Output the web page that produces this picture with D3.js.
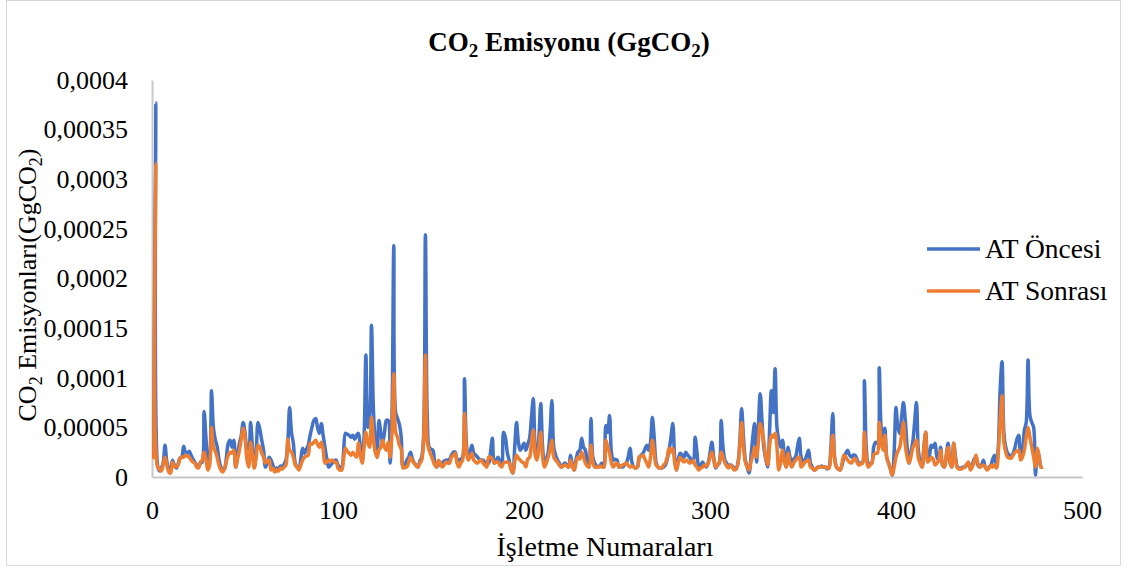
<!DOCTYPE html>
<html><head><meta charset="utf-8">
<script src="https://cdn.jsdelivr.net/npm/d3@7/dist/d3.min.js"></script>
<style>
html,body{margin:0;padding:0;background:#fff;}
text{font-family:"Liberation Serif","Times New Roman",serif;fill:#000;}
</style></head>
<body><svg id="chart" width="1129" height="570"></svg>
<script>
// Values in units of 1e-6 GgCO2, one per işletme (1..479)
const atOncesi = [
20,377,12,6,9,14,32,15,9,8,
17,12,9,13,19,20,31,25,24,26,
22,18,15,12,10,14,15,66,40,17,
22,87,50,38,31,18,10,8,8,20,
34,37,30,37,10,22,34,42,55,45,
30,28,55,30,10,25,55,48,37,27,
10,15,20,17,12,7,9,8,11,10,
13,17,34,70,45,34,14,10,8,18,
29,24,28,32,42,50,57,59,50,44,
54,42,30,18,10,12,14,16,17,12,
10,10,25,44,43,42,40,42,38,42,
44,30,17,40,123,50,60,153,70,35,
20,57,45,35,45,57,57,14,60,233,
65,59,53,40,10,12,17,20,25,18,
14,12,10,16,20,40,244,60,30,28,
27,15,10,12,13,14,16,17,17,18,
22,25,25,18,17,18,20,99,35,20,
25,32,24,22,20,18,17,17,15,14,
14,25,39,14,16,20,15,12,45,40,
25,17,8,4,30,55,35,27,30,34,
27,33,39,60,79,30,20,40,74,30,
14,18,25,45,77,30,22,17,14,10,
12,14,12,10,22,12,7,18,25,27,
39,30,27,15,10,59,20,14,11,10,
12,14,10,52,45,62,25,17,18,17,
10,11,10,12,14,20,29,15,10,9,
10,20,22,24,28,32,27,35,60,40,
15,10,9,9,10,12,18,27,40,54,
20,7,18,24,22,20,25,22,20,17,
15,40,25,10,12,15,12,10,14,24,
35,20,9,12,14,57,30,17,14,10,
12,11,9,8,14,35,69,40,17,10,
4,20,40,54,15,50,84,55,29,18,
10,45,87,65,109,50,37,30,37,20,
10,30,20,15,18,20,30,39,20,16,
17,22,27,14,10,7,8,10,10,11,
10,10,8,10,30,64,20,10,8,7,
12,20,24,27,22,20,22,22,18,14,
14,14,97,30,14,13,14,30,35,34,
110,50,37,49,20,14,8,2,25,70,
50,44,60,75,57,30,14,25,35,55,
75,27,15,10,30,45,17,22,32,30,
34,20,17,30,12,10,20,34,15,10,
34,20,10,9,9,10,10,12,14,9,
12,18,20,12,10,12,17,10,8,10,
12,18,22,10,30,88,116,45,30,24,
22,20,24,30,38,42,20,25,47,55,
118,62,55,50,2,27,20,10,10
];
const atSonrasi = [
18,316,10,8,6,12,20,12,5,4,
15,11,10,12,18,20,20,22,21,20,
17,15,14,10,9,15,17,25,18,7,
12,50,30,26,20,12,7,5,9,16,
22,25,24,27,10,18,27,38,49,40,
18,10,35,22,9,20,32,30,24,20,
14,16,17,7,9,5,7,6,9,8,
10,12,38,27,25,20,12,10,7,12,
17,20,21,22,34,33,35,37,33,30,
35,28,14,15,17,16,17,15,15,9,
7,7,18,29,26,24,22,25,22,20,
34,22,14,30,45,35,30,60,40,25,
20,27,30,37,30,27,35,20,45,104,
45,40,32,28,9,10,10,15,20,16,
14,11,10,14,17,37,123,35,27,22,
17,12,10,17,14,10,12,15,14,14,
20,22,24,14,10,14,17,64,28,17,
20,24,17,15,14,16,17,14,12,10,
20,20,18,14,15,15,12,10,14,15,
15,14,8,4,15,22,19,17,15,14,
10,18,20,35,47,22,17,30,45,20,
10,14,20,28,37,20,17,15,12,10,
11,12,11,10,17,10,7,15,20,18,
25,20,14,11,10,32,15,10,10,10,
11,10,10,37,30,24,14,10,13,14,
10,11,12,13,14,12,10,11,10,9,
10,20,21,22,18,14,10,20,37,25,
12,10,9,9,12,14,20,29,25,29,
15,7,15,20,17,15,17,16,14,15,
17,12,10,7,9,10,12,11,14,20,
25,18,10,12,15,25,20,14,11,9,
12,10,7,8,13,30,55,30,15,10,
7,15,22,30,20,35,54,47,35,20,
12,30,42,40,44,30,7,15,27,15,
10,24,14,10,14,17,19,20,10,12,
15,16,17,10,9,7,8,10,10,10,
10,10,9,9,25,42,18,10,8,7,
14,22,20,17,15,14,17,19,15,12,
13,14,45,20,10,12,14,22,24,24,
55,35,27,42,20,14,8,2,10,20,
26,30,42,55,32,20,14,20,29,33,
37,19,14,10,30,45,15,17,20,18,
12,14,17,27,12,10,22,30,14,10,
34,18,9,8,8,9,10,13,15,7,
10,15,22,14,10,11,12,10,7,9,
12,10,12,9,25,58,82,35,25,20,
19,19,22,25,26,27,17,20,27,40,
50,40,30,20,10,29,20,10,10
];
const seriesNames = ["AT Öncesi", "AT Sonrası"];
const seriesColors = ["#4472C4", "#ED7D31"];
const xTickValues = [0, 100, 200, 300, 400, 500];
const yTickValues = [0, 50, 100, 150, 200, 250, 300, 350, 400];
const yTickLabels = ["0","0,00005","0,0001","0,00015","0,0002","0,00025","0,0003","0,00035","0,0004"];

const svg = d3.select("#chart");
const FS = 26;

// outer frame
svg.append("rect").attr("x", 6.5).attr("y", 0.5).attr("width", 1114).attr("height", 565)
  .attr("fill", "none").attr("stroke", "#d9d9d9").attr("stroke-width", 1);

const x = d3.scaleLinear().domain([0, 500]).range([152, 1082]);
const y = d3.scaleLinear().domain([0, 400]).range([477, 80]);

// axes
const gx = svg.append("g").attr("transform", `translate(0,${y(0)})`)
  .call(d3.axisBottom(x).tickValues(xTickValues).tickSize(0).tickSizeOuter(0).tickPadding(24));
const gy = svg.append("g").attr("transform", `translate(${x(0)},0)`)
  .call(d3.axisLeft(y).tickValues(yTickValues).tickFormat((d, i) => yTickLabels[i]).tickSize(0).tickSizeOuter(0).tickPadding(24));
[gx, gy].forEach(g => {
  g.attr("font-family", null);
  g.select(".domain").attr("stroke", "#c8c8c8").attr("stroke-width", 2);
  g.selectAll("text").attr("font-size", FS).attr("fill", "#000");
});

// lines
const line = d3.line().x((d, i) => x(i + 1)).y(d => y(d)).curve(d3.curveCatmullRom.alpha(0.5));
[atOncesi, atSonrasi].forEach((s, k) => {
  svg.append("path").datum(s).attr("d", line).attr("fill", "none")
    .attr("stroke", seriesColors[k]).attr("stroke-width", 3.5).attr("stroke-linejoin", "round");
});

// title
const t = svg.append("text").attr("x", 569).attr("y", 51).attr("text-anchor", "middle")
  .attr("font-size", 27).attr("font-weight", "bold");
t.append("tspan").text("CO");
t.append("tspan").attr("dy", 6).attr("font-size", 19).text("2");
t.append("tspan").attr("dy", -6).text(" Emisyonu (GgCO");
t.append("tspan").attr("dy", 6).attr("font-size", 19).text("2");
t.append("tspan").attr("dy", -6).text(")");

// y title
const yt = svg.append("text").attr("transform", "translate(36,285) rotate(-90)")
  .attr("text-anchor", "middle").attr("font-size", 26);
yt.append("tspan").text("CO");
yt.append("tspan").attr("dy", 6).attr("font-size", 18).text("2");
yt.append("tspan").attr("dy", -6).text("  Emisyonları(GgCO");
yt.append("tspan").attr("dy", 6).attr("font-size", 18).text("2");
yt.append("tspan").attr("dy", -6).text(")");

// x title
svg.append("text").attr("x", 605).attr("y", 556).attr("text-anchor", "middle")
  .attr("font-size", 28).text("İşletme Numaraları");

// legend
seriesNames.forEach((n, k) => {
  const ly = 249 + k * 42;
  svg.append("line").attr("x1", 927).attr("x2", 980).attr("y1", ly).attr("y2", ly)
    .attr("stroke", seriesColors[k]).attr("stroke-width", 3.5);
  svg.append("text").attr("x", 985).attr("y", ly + 9).attr("font-size", 27.5).text(n);
});
</script></body></html>
